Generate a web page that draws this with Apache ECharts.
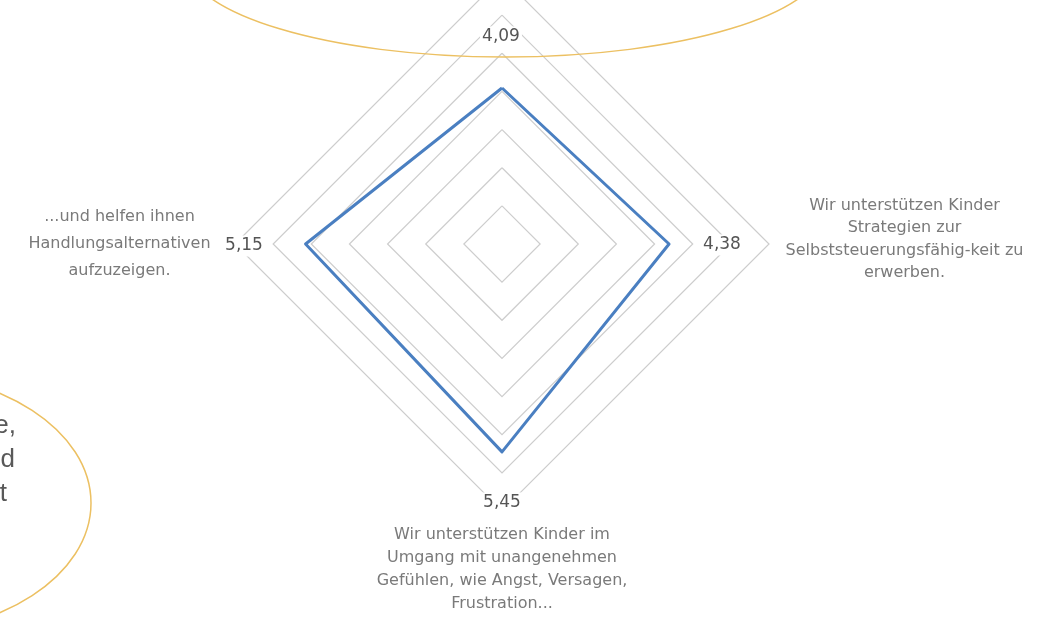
<!DOCTYPE html>
<html>
<head>
<meta charset="utf-8">
<title>Radar</title>
<script src="https://cdn.jsdelivr.net/npm/echarts@6/dist/echarts.min.js"></script>
<style>
  html, body { margin: 0; padding: 0; background: #fff; }
  #chart { width: 1042px; height: 628px; }
</style>
</head>
<body>
<div id="chart"></div>
<script>
// ECharts legt die Achsen gegen den Uhrzeigersinn an: oben, links, unten, rechts
const indicatorNames = [
  "",
  "...und helfen ihnen\nHandlungsalternativen\naufzuzeigen.",
  "Wir unterstützen Kinder im\nUmgang mit unangenehmen\nGefühlen, wie Angst, Versagen,\nFrustration...",
  "Wir unterstützen Kinder\nStrategien zur\nSelbststeuerungsfähig-keit zu\nerwerben."
];
const scoreValues = [4.09, 5.15, 5.45, 4.38];
const axisMax = 7;
const ringCount = 7;

// Lage der Datenbeschriftungen (wie im Original von Hand verschoben)
const valueLabelPos = [[501, 37], [244, 246], [502, 503], [722, 245]];

const chartDom = document.getElementById("chart");
const chart = echarts.init(chartDom, null, { renderer: "canvas" });

const fmt = (v) => v.toFixed(2).replace(".", ",");
const sideStyle = ["t", "l", "b", "r"];

const option = {
  animation: false,
  backgroundColor: "#ffffff",
  radar: {
    center: [502, 244],
    radius: 267,
    startAngle: 90,
    shape: "polygon",
    splitNumber: ringCount,
    indicator: indicatorNames.map((n) => ({ name: n, min: 0, max: axisMax })),
    axisLine: { show: false },
    axisTick: { show: false },
    splitArea: { show: false },
    splitLine: { lineStyle: { color: "#cdcdcd", width: 1.2 } },
    nameGap: 3,
    axisName: {
      color: "#7a7a7a",
      fontFamily: "DejaVu Sans",
      fontSize: 16,
      formatter: (name) => {
        if (!name) return "";
        const key = sideStyle[indicatorNames.indexOf(name)];
        let txt = name
          .split("\n")
          .map((line) => "{" + key + "|" + line + "}")
          .join("\n");
        // kleine Leerzeilen zum Verschieben der Bloecke
        if (key === "b") txt = "{sp| }\n" + txt;
        if (key === "r") txt = txt + "\n{sp| }";
        return txt;
      },
      rich: {
        l: { width: 185, align: "center", lineHeight: 27, padding: [0, 20, 0, 0] },
        r: { width: 265, align: "center", lineHeight: 22.5 },
        b: { width: 290, align: "center", lineHeight: 23 },
        sp: { lineHeight: 9, fontSize: 4 }
      }
    }
  },
  series: [
    {
      type: "radar",
      symbol: "none",
      lineStyle: { color: "#4a7fc1", width: 3 },
      data: [{ value: scoreValues, name: "Mittelwert" }]
    }
  ],
  graphic: [
    // Datenbeschriftungen mit weissem Hintergrund
    ...scoreValues.map((v, i) => ({
      type: "text",
      z: 10,
      x: valueLabelPos[i][0],
      y: valueLabelPos[i][1],
      style: {
        text: fmt(v),
        fill: "#555555",
        font: "17px 'DejaVu Sans'",
        align: "center",
        verticalAlign: "middle",
        backgroundColor: "#ffffff",
        padding: [2, 2]
      }
    })),
    // angeschnittene Ellipsen aus der Folie
    {
      type: "ellipse",
      z: 20,
      shape: { cx: 505, cy: -40, rx: 320, ry: 97 },
      style: { fill: "none", stroke: "#ecc062", lineWidth: 1.5 }
    },
    {
      type: "ellipse",
      z: 20,
      shape: { cx: -110, cy: 503, rx: 201, ry: 131 },
      style: { fill: "none", stroke: "#ecc062", lineWidth: 1.5 }
    },
    { type: "text", z: 20, x: 16, y: 426, style: { text: "e,", fill: "#595959", font: "26px 'Liberation Sans'", align: "right", verticalAlign: "middle" } },
    { type: "text", z: 20, x: 15, y: 460, style: { text: "d", fill: "#595959", font: "26px 'Liberation Sans'", align: "right", verticalAlign: "middle" } },
    { type: "text", z: 20, x: 7, y: 494, style: { text: "t", fill: "#595959", font: "26px 'Liberation Sans'", align: "right", verticalAlign: "middle" } }
  ]
};

chart.setOption(option);
</script>
</body>
</html>
